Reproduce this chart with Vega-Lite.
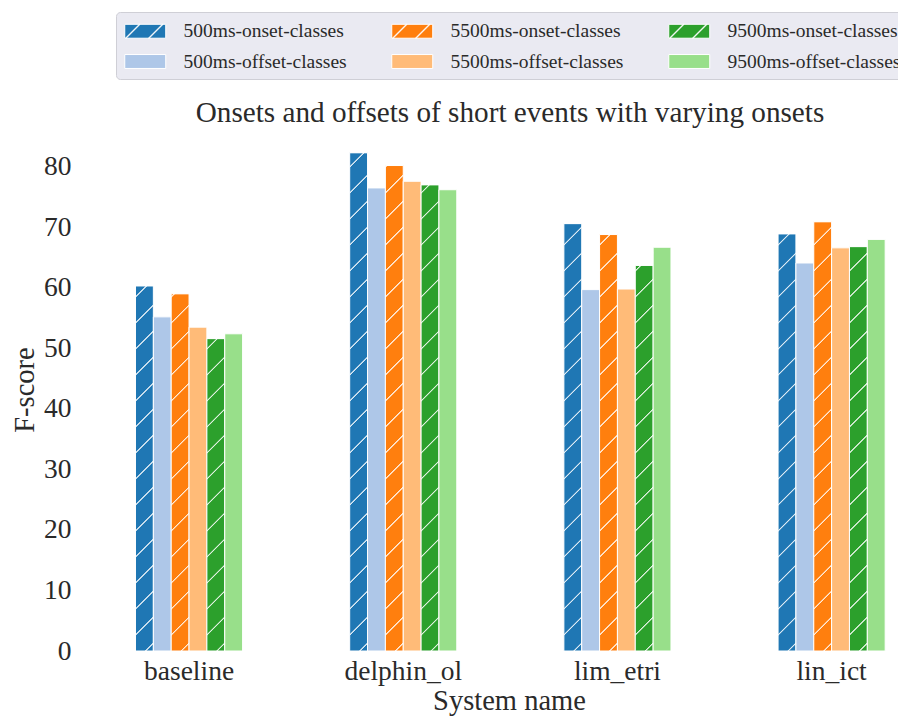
{
  "$schema": "https://vega.github.io/schema/vega-lite/v6.json",
  "width": 800,
  "height": 523,
  "autosize": {"type": "none"},
  "padding": {"left": 98, "top": 128, "right": 0, "bottom": 66},
  "background": "white",
  "config": {
    "view": {"stroke": null},
    "font": "Liberation Serif",
    "axis": {"grid": false, "ticks": false, "domain": false, "labelFont": "Liberation Serif", "labelColor": "#2a2a2a", "titleFont": "Liberation Serif", "titleColor": "#2a2a2a", "titleFontWeight": "normal"},
    "axisX": {"labelFontSize": 27.5, "labelAngle": 0, "labelPadding": 6, "titleFontSize": 28.5, "titlePadding": 2, "titleX": 411},
    "axisY": {"labelFontSize": 27.5, "labelPadding": 27, "titleFontSize": 28.5, "titlePadding": 4},
    "legend": {"labelFont": "Liberation Serif"}
  },
  "title": {"text": "Onsets and offsets of short events with varying onsets", "font": "Liberation Serif", "fontSize": 29.2, "fontWeight": "normal", "color": "#2a2a2a", "anchor": "middle", "frame": "group", "dx": 12, "offset": -140, "baseline": "alphabetic"},
  "data": {"values": [
    {"system": "baseline", "series": "500ms-onset-classes", "score": 60.3},
    {"system": "baseline", "series": "500ms-offset-classes", "score": 55.2},
    {"system": "baseline", "series": "5500ms-onset-classes", "score": 59.0},
    {"system": "baseline", "series": "5500ms-offset-classes", "score": 53.5},
    {"system": "baseline", "series": "9500ms-onset-classes", "score": 51.6},
    {"system": "baseline", "series": "9500ms-offset-classes", "score": 52.4},
    {"system": "delphin_ol", "series": "500ms-onset-classes", "score": 82.3},
    {"system": "delphin_ol", "series": "500ms-offset-classes", "score": 76.5},
    {"system": "delphin_ol", "series": "5500ms-onset-classes", "score": 80.2},
    {"system": "delphin_ol", "series": "5500ms-offset-classes", "score": 77.6},
    {"system": "delphin_ol", "series": "9500ms-onset-classes", "score": 77.0},
    {"system": "delphin_ol", "series": "9500ms-offset-classes", "score": 76.2},
    {"system": "lim_etri", "series": "500ms-onset-classes", "score": 70.6},
    {"system": "lim_etri", "series": "500ms-offset-classes", "score": 59.7},
    {"system": "lim_etri", "series": "5500ms-onset-classes", "score": 68.8},
    {"system": "lim_etri", "series": "5500ms-offset-classes", "score": 59.8},
    {"system": "lim_etri", "series": "9500ms-onset-classes", "score": 63.7},
    {"system": "lim_etri", "series": "9500ms-offset-classes", "score": 66.7},
    {"system": "lin_ict", "series": "500ms-onset-classes", "score": 68.9},
    {"system": "lin_ict", "series": "500ms-offset-classes", "score": 64.1},
    {"system": "lin_ict", "series": "5500ms-onset-classes", "score": 70.9},
    {"system": "lin_ict", "series": "5500ms-offset-classes", "score": 66.6},
    {"system": "lin_ict", "series": "9500ms-onset-classes", "score": 66.8},
    {"system": "lin_ict", "series": "9500ms-offset-classes", "score": 68.0}
  ]},
  "encoding": {
    "x": {"field": "system", "type": "nominal", "sort": ["baseline", "delphin_ol", "lim_etri", "lin_ict"], "scale": {"paddingInner": 0.5, "paddingOuter": 0.1175, "align": 0.745}, "axis": {"title": "System name"}},
    "xOffset": {"field": "series", "type": "nominal", "scale": {"domain": ["500ms-onset-classes", "500ms-offset-classes", "5500ms-onset-classes", "5500ms-offset-classes", "9500ms-onset-classes", "9500ms-offset-classes"], "paddingInner": 0, "paddingOuter": 0}}
  },
  "layer": [
    {
      "mark": {"type": "bar", "fill": "white", "strokeWidth": 1},
      "encoding": {
        "y": {"datum": 0, "type": "quantitative", "scale": {"domain": [0, 86.4], "nice": false}, "axis": {"title": "F-score", "values": [0, 10, 20, 30, 40, 50, 60, 70, 80]}},
        "y2": {"datum": 0},
        "stroke": {
          "field": "series", "type": "nominal",
          "scale": {"domain": ["500ms-onset-classes", "500ms-offset-classes", "5500ms-onset-classes", "5500ms-offset-classes", "9500ms-onset-classes", "9500ms-offset-classes"], "range": ["#ffffff", "#ffffff", "#ffffff", "#ffffff", "#ffffff", "#ffffff"]},
          "legend": {
            "orient": "none", "legendX": 18, "legendY": -116, "columns": 3, "title": null,
            "fillColor": "#eaeaf2", "strokeColor": "#cfcfd6", "padding": 8, "cornerRadius": 4,
            "symbolType": "M-1,-0.68H3V0.68H-1Z", "symbolSize": 420, "symbolStrokeWidth": 1, "symbolOpacity": 1,
            "labelFont": "Liberation Serif", "labelFontSize": 19.5, "labelColor": "#2a2a2a", "labelOffset": 37.5, "labelLimit": 400,
            "columnPadding": 42, "rowPadding": 9.5,
            "encoding": {
              "symbols": {
                "fill": {"condition": [
                  {"test": "datum.value === '500ms-onset-classes'", "value": "#1f77b4"},
                  {"test": "datum.value === '5500ms-onset-classes'", "value": "#ff7f0e"},
                  {"test": "datum.value === '9500ms-onset-classes'", "value": "#2ca02c"},
                  {"test": "datum.value === '500ms-offset-classes'", "value": "#aec7e8"},
                  {"test": "datum.value === '5500ms-offset-classes'", "value": "#ffbb78"}
                ], "value": "#98df8a"},
                "shape": {"condition": {"test": "indexof(datum.value, 'onset') >= 0", "value": "M-1,-0.68H3V0.68H-1ZM-0.937,0.68L-0.857,0.68L0.503,-0.68L0.423,-0.68ZM1.307,0.68L1.387,0.68L2.747,-0.68L2.667,-0.68Z"}, "value": "M-1,-0.68H3V0.68H-1Z"}
              }
            }
          }
        }
      }
    },
    {
      "mark": {"type": "bar", "stroke": "white", "strokeWidth": 1},
      "encoding": {
        "y": {"field": "score", "type": "quantitative", "axis": {"title": "F-score", "values": [0, 10, 20, 30, 40, 50, 60, 70, 80]}},
        "color": {
          "field": "series", "type": "nominal",
          "scale": {"domain": ["500ms-onset-classes", "500ms-offset-classes", "5500ms-onset-classes", "5500ms-offset-classes", "9500ms-onset-classes", "9500ms-offset-classes"], "range": ["#1f77b4", "#aec7e8", "#ff7f0e", "#ffbb78", "#2ca02c", "#98df8a"]},
          "legend": null
        }
      }
    },
    {
      "transform": [{"filter": "indexof(datum.series, 'onset') >= 0"}],
      "mark": {"type": "bar", "strokeWidth": 0, "fill": {"gradient": "linear", "x1": 0, "y1": 0, "x2": 0.03525, "y2": 1.0329, "stops": [
        {"offset": 0, "color": "rgba(255,255,255,0)"},
        {"offset": 0.021817, "color": "rgba(255,255,255,0)"}, {"offset": 0.023296, "color": "rgba(255,255,255,0.85)"}, {"offset": 0.024776, "color": "rgba(255,255,255,0.85)"}, {"offset": 0.026255, "color": "rgba(255,255,255,0)"},
        {"offset": 0.06989, "color": "rgba(255,255,255,0)"}, {"offset": 0.071369, "color": "rgba(255,255,255,0.85)"}, {"offset": 0.072849, "color": "rgba(255,255,255,0.85)"}, {"offset": 0.074328, "color": "rgba(255,255,255,0)"},
        {"offset": 0.117963, "color": "rgba(255,255,255,0)"}, {"offset": 0.119442, "color": "rgba(255,255,255,0.85)"}, {"offset": 0.120922, "color": "rgba(255,255,255,0.85)"}, {"offset": 0.122401, "color": "rgba(255,255,255,0)"},
        {"offset": 0.166036, "color": "rgba(255,255,255,0)"}, {"offset": 0.167515, "color": "rgba(255,255,255,0.85)"}, {"offset": 0.168995, "color": "rgba(255,255,255,0.85)"}, {"offset": 0.170474, "color": "rgba(255,255,255,0)"},
        {"offset": 0.214109, "color": "rgba(255,255,255,0)"}, {"offset": 0.215588, "color": "rgba(255,255,255,0.85)"}, {"offset": 0.217068, "color": "rgba(255,255,255,0.85)"}, {"offset": 0.218547, "color": "rgba(255,255,255,0)"},
        {"offset": 0.262182, "color": "rgba(255,255,255,0)"}, {"offset": 0.263661, "color": "rgba(255,255,255,0.85)"}, {"offset": 0.265141, "color": "rgba(255,255,255,0.85)"}, {"offset": 0.26662, "color": "rgba(255,255,255,0)"},
        {"offset": 0.310255, "color": "rgba(255,255,255,0)"}, {"offset": 0.311734, "color": "rgba(255,255,255,0.85)"}, {"offset": 0.313214, "color": "rgba(255,255,255,0.85)"}, {"offset": 0.314693, "color": "rgba(255,255,255,0)"},
        {"offset": 0.358328, "color": "rgba(255,255,255,0)"}, {"offset": 0.359807, "color": "rgba(255,255,255,0.85)"}, {"offset": 0.361287, "color": "rgba(255,255,255,0.85)"}, {"offset": 0.362766, "color": "rgba(255,255,255,0)"},
        {"offset": 0.406401, "color": "rgba(255,255,255,0)"}, {"offset": 0.40788, "color": "rgba(255,255,255,0.85)"}, {"offset": 0.40936, "color": "rgba(255,255,255,0.85)"}, {"offset": 0.410839, "color": "rgba(255,255,255,0)"},
        {"offset": 0.454474, "color": "rgba(255,255,255,0)"}, {"offset": 0.455953, "color": "rgba(255,255,255,0.85)"}, {"offset": 0.457433, "color": "rgba(255,255,255,0.85)"}, {"offset": 0.458912, "color": "rgba(255,255,255,0)"},
        {"offset": 0.502547, "color": "rgba(255,255,255,0)"}, {"offset": 0.504026, "color": "rgba(255,255,255,0.85)"}, {"offset": 0.505506, "color": "rgba(255,255,255,0.85)"}, {"offset": 0.506985, "color": "rgba(255,255,255,0)"},
        {"offset": 0.55062, "color": "rgba(255,255,255,0)"}, {"offset": 0.552099, "color": "rgba(255,255,255,0.85)"}, {"offset": 0.553579, "color": "rgba(255,255,255,0.85)"}, {"offset": 0.555058, "color": "rgba(255,255,255,0)"},
        {"offset": 0.598693, "color": "rgba(255,255,255,0)"}, {"offset": 0.600172, "color": "rgba(255,255,255,0.85)"}, {"offset": 0.601652, "color": "rgba(255,255,255,0.85)"}, {"offset": 0.603131, "color": "rgba(255,255,255,0)"},
        {"offset": 0.646766, "color": "rgba(255,255,255,0)"}, {"offset": 0.648245, "color": "rgba(255,255,255,0.85)"}, {"offset": 0.649725, "color": "rgba(255,255,255,0.85)"}, {"offset": 0.651204, "color": "rgba(255,255,255,0)"},
        {"offset": 0.694839, "color": "rgba(255,255,255,0)"}, {"offset": 0.696318, "color": "rgba(255,255,255,0.85)"}, {"offset": 0.697798, "color": "rgba(255,255,255,0.85)"}, {"offset": 0.699277, "color": "rgba(255,255,255,0)"},
        {"offset": 0.742912, "color": "rgba(255,255,255,0)"}, {"offset": 0.744391, "color": "rgba(255,255,255,0.85)"}, {"offset": 0.745871, "color": "rgba(255,255,255,0.85)"}, {"offset": 0.74735, "color": "rgba(255,255,255,0)"},
        {"offset": 0.790985, "color": "rgba(255,255,255,0)"}, {"offset": 0.792464, "color": "rgba(255,255,255,0.85)"}, {"offset": 0.793944, "color": "rgba(255,255,255,0.85)"}, {"offset": 0.795423, "color": "rgba(255,255,255,0)"},
        {"offset": 0.839058, "color": "rgba(255,255,255,0)"}, {"offset": 0.840537, "color": "rgba(255,255,255,0.85)"}, {"offset": 0.842017, "color": "rgba(255,255,255,0.85)"}, {"offset": 0.843496, "color": "rgba(255,255,255,0)"},
        {"offset": 0.887131, "color": "rgba(255,255,255,0)"}, {"offset": 0.88861, "color": "rgba(255,255,255,0.85)"}, {"offset": 0.89009, "color": "rgba(255,255,255,0.85)"}, {"offset": 0.891569, "color": "rgba(255,255,255,0)"},
        {"offset": 0.935204, "color": "rgba(255,255,255,0)"}, {"offset": 0.936683, "color": "rgba(255,255,255,0.85)"}, {"offset": 0.938163, "color": "rgba(255,255,255,0.85)"}, {"offset": 0.939642, "color": "rgba(255,255,255,0)"},
        {"offset": 0.983277, "color": "rgba(255,255,255,0)"}, {"offset": 0.984756, "color": "rgba(255,255,255,0.85)"}, {"offset": 0.986236, "color": "rgba(255,255,255,0.85)"}, {"offset": 0.987715, "color": "rgba(255,255,255,0)"},
        {"offset": 1, "color": "rgba(255,255,255,0)"}
      ]}},
      "encoding": {
        "y": {"datum": 86.4, "type": "quantitative", "axis": {"title": "F-score", "values": [0, 10, 20, 30, 40, 50, 60, 70, 80]}},
        "y2": {"datum": 0}
      }
    },
    {
      "transform": [{"filter": "indexof(datum.series, 'onset') >= 0"}],
      "mark": {"type": "bar", "fill": "white", "strokeWidth": 0},
      "encoding": {
        "y": {"field": "score", "type": "quantitative", "axis": {"title": "F-score", "values": [0, 10, 20, 30, 40, 50, 60, 70, 80]}},
        "y2": {"datum": 86.4}
      }
    }
  ]
}
